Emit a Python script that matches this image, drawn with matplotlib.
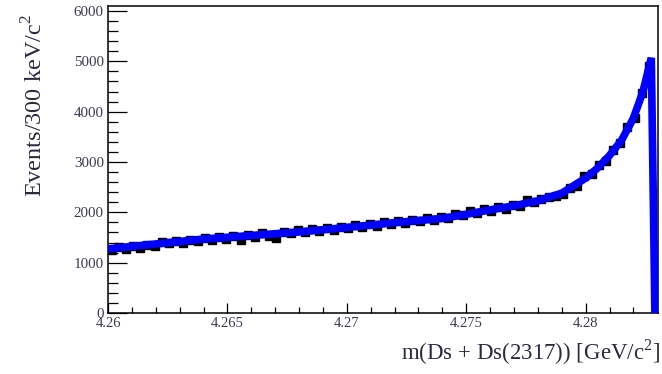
import numpy as np
import matplotlib
matplotlib.use("Agg")
import matplotlib.pyplot as plt
from matplotlib.ticker import MultipleLocator, FixedFormatter, FixedLocator

# ---- data ----
bin_start = 4.26
bin_width = 0.0003
counts = [1250, 1310, 1270, 1330, 1300, 1360, 1340, 1410, 1390, 1430,
          1400, 1460, 1430, 1490, 1450, 1510, 1480, 1530, 1460, 1550,
          1520, 1580, 1530, 1490, 1610, 1580, 1640, 1600, 1660, 1620,
          1690, 1650, 1710, 1680, 1740, 1700, 1770, 1730, 1800, 1760,
          1820, 1790, 1850, 1820, 1880, 1850, 1910, 1890, 1960, 1940,
          2020, 1990, 2060, 2030, 2100, 2070, 2150, 2130, 2250, 2200,
          2270, 2310, 2320, 2370, 2490, 2520, 2720, 2760, 2950, 3020,
          3230, 3380, 3700, 3880, 4380, 4900]

fit_x = [4.2600, 4.2620, 4.2640, 4.2660, 4.2680, 4.2700, 4.2720, 4.2740,
         4.2750, 4.2760, 4.2770, 4.2780, 4.2790, 4.2800, 4.2805, 4.2810,
         4.2815, 4.2820, 4.2824, 4.28275, 4.28290]
fit_y = [1275, 1372, 1470, 1540, 1610, 1700, 1795, 1880,
         1960, 2050, 2130, 2230, 2380, 2680, 2880, 3130,
         3430, 3870, 4400, 5070, 0]

x_ticks = [4.26, 4.265, 4.27, 4.275, 4.28]
x_tick_labels = ["4.26", "4.265", "4.27", "4.275", "4.28"]
y_ticks = [0, 1000, 2000, 3000, 4000, 5000, 6000]
y_tick_labels = ["0", "1000", "2000", "3000", "4000", "5000", "6000"]

xlabel = r"m(Ds + Ds(2317)) [GeV/c$^{2}$]"
ylabel = r"Events/300 keV/c$^{2}$"

# ---- figure ----
plt.rcParams['font.family'] = ['Liberation Serif', 'DejaVu Serif']
plt.rcParams['mathtext.fontset'] = 'custom'
plt.rcParams['mathtext.rm'] = 'Liberation Serif'

fig = plt.figure(figsize=(6.62, 3.74), dpi=100)
W, H = 662, 374
left, right, top, bottom = 108, 658, 6, 313
ax = fig.add_axes([left / W, 1 - bottom / H, (right - left) / W, (bottom - top) / H])

centers = bin_start + bin_width * (np.arange(len(counts)) + 0.5)
cnt = np.array(counts, dtype=float)
ax.errorbar(centers, cnt, yerr=np.sqrt(cnt), fmt='s', color='black',
            markersize=5.5, elinewidth=1.4, capsize=0, zorder=2)
ax.plot(fit_x, fit_y, color='#0000ff', lw=5.5, solid_joinstyle='miter', zorder=3)

ax.set_xlim(4.26, 4.28303)
ax.set_ylim(0, 6100)

ax.xaxis.set_major_locator(FixedLocator(x_ticks))
ax.xaxis.set_major_formatter(FixedFormatter(x_tick_labels))
ax.xaxis.set_minor_locator(MultipleLocator(0.001))
ax.yaxis.set_major_locator(FixedLocator(y_ticks))
ax.yaxis.set_major_formatter(FixedFormatter(y_tick_labels))
ax.yaxis.set_minor_locator(MultipleLocator(200))

tick_color = '#3a3a55'
ax.tick_params(axis='x', which='major', direction='in', length=7.2, width=0.9,
               pad=3, labelsize=10.5, labelcolor=tick_color, top=False)
ax.tick_params(axis='x', which='minor', direction='in', length=4, width=0.9, top=False)
ax.tick_params(axis='y', which='major', direction='in', length=13.7, width=0.9,
               pad=3, labelsize=10.8, labelcolor=tick_color, right=False)
ax.tick_params(axis='y', which='minor', direction='in', length=7.2, width=0.9, right=False)
for s in ax.spines.values():
    s.set_linewidth(1.1)

fig.text(660 / W, 1 - 352 / H, xlabel, ha='right', va='center', fontsize=16.5,
         color='#2a2a40')
fig.text(35 / W, 1 - 14 / H, ylabel, ha='center', va='top', rotation=90,
         fontsize=17.5, color='#2a2a40')

fig.savefig("out.png", dpi=100)
